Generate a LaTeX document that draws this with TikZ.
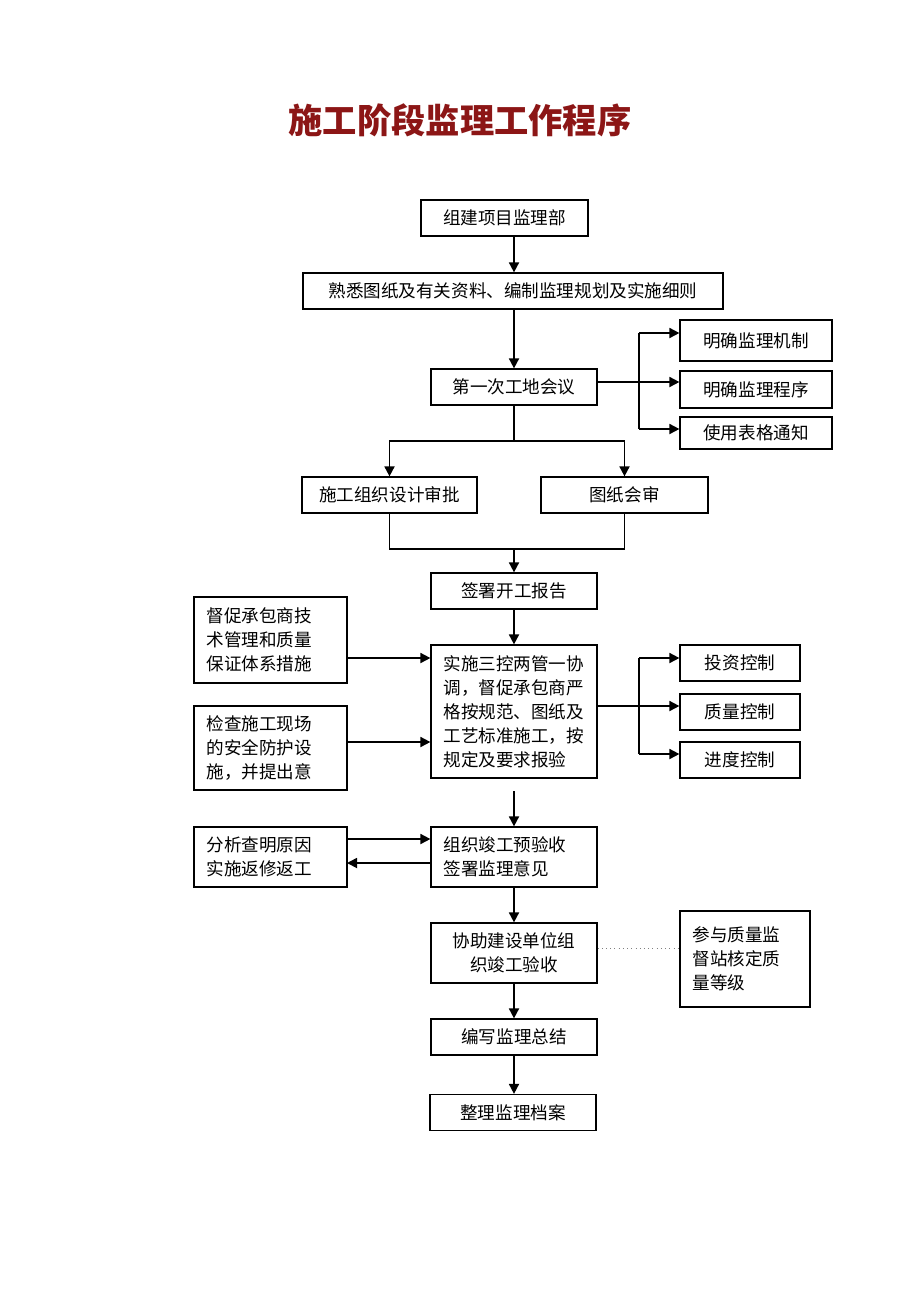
\documentclass[tikz,border=0pt]{standalone}
\usepackage{fontspec}
\setmainfont{Noto Sans CJK SC}
\usepackage{tikz}
\usetikzlibrary{arrows.meta}
\usetikzlibrary{positioning}
\definecolor{titlered}{RGB}{140,22,22}
\tikzset{box/.style = {draw, line width = 0.7pt, inner ysep = 0, font = \fontsize{10pt}{13.6pt}\selectfont}}
\tikzset{sbox/.style = {box, minimum width = 3.32cm, minimum height = 0.72cm}}
\tikzset{tbox/.style = {box, align = left, inner xsep = 0.25cm, text width = #1}}
\tikzset{arr/.style = {line width = 1pt, -{Triangle[length = 2mm, width = 2mm]}}}
\tikzset{ln/.style = {line width = 1pt}}

\begin{document}
\begin{tikzpicture}[x = 0.02cm, y = -0.02cm]
      \useasboundingbox (0, 0) rectangle (920, 1302);
      \node [font = \fontsize{19.5pt}{22pt}\selectfont\bfseries, text = titlered] (title) at (460, 120) {施工阶段监理工作程序};
      \node [sbox, minimum width = 3.34cm] (b1) at (504.5, 218) {组建项目监理部};
      \node [sbox, minimum width = 8.4cm] (b2) at (513, 291) {熟悉图纸及有关资料、编制监理规划及实施细则};
      \node [sbox] (b3) at (514, 387) {第一次工地会议};
      \node [sbox, minimum width = 3.04cm, minimum height = 0.82cm] (r1) at (756, 340.5) {明确监理机制};
      \node [sbox, minimum width = 3.04cm, minimum height = 0.74cm] (r2) at (756, 389.5) {明确监理程序};
      \node [sbox, minimum width = 3.04cm, minimum height = 0.64cm] (r3) at (756, 433) {使用表格通知};
      \node [sbox, minimum width = 3.5cm] (b4) at (389.5, 495) {施工组织设计审批};
      \node [sbox, minimum width = 3.34cm] (b5) at (624.5, 495) {图纸会审};
      \node [sbox] (b6) at (514, 591) {签署开工报告};
      \node [tbox = 2.82cm, minimum height = 2.66cm] (b7) at (514, 711.5) {实施三控两管一协\\调，督促承包商严\\格按规范、图纸及\\工艺标准施工，按\\规定及要求报验};
      \node [tbox = 2.56cm, minimum height = 1.72cm] (l1) at (270.5, 640) {督促承包商技\\术管理和质量\\保证体系措施};
      \node [tbox = 2.56cm, minimum height = 1.68cm] (l2) at (270.5, 748) {检查施工现场\\的安全防护设\\施，并提出意};
      \node [sbox, minimum width = 2.4cm] (c1) at (740, 663) {投资控制};
      \node [sbox, minimum width = 2.4cm] (c2) at (740, 712) {质量控制};
      \node [sbox, minimum width = 2.4cm] (c3) at (740, 760) {进度控制};
      \node [tbox = 2.82cm, minimum height = 1.2cm] (b8) at (514, 857) {组织竣工预验收\\签署监理意见};
      \node [tbox = 2.56cm, minimum height = 1.2cm] (l3) at (270.5, 857) {分析查明原因\\实施返修返工};
      \node [sbox, align = center, minimum height = 1.2cm] (b9) at (514, 953) {协助建设单位组\\织竣工验收};
      \node [tbox = 2.1cm, minimum width = 2.6cm, minimum height = 1.92cm] (n1) at (745, 959) {参与质量监\\督站核定质\\量等级};
      \node [sbox] (b10) at (514, 1037) {编写监理总结};
      \node [sbox] (b11) at (513, 1112.5) {整理监理档案};
      \coordinate (j1) at (639, 333);
      \coordinate (j2) at (639, 382);
      \coordinate (j3) at (639, 429);
      \coordinate (s2) at (514, 441);
      \coordinate (s3) at (514, 549);
      \coordinate (a1) at (347, 658);
      \coordinate (a2) at (347, 742);
      \coordinate (k1) at (639, 658);
      \coordinate (k2) at (639, 706);
      \coordinate (k3) at (639, 754);
      \coordinate (g1) at (514, 791);
      \coordinate (m1) at (347, 839);
      \coordinate (m2) at (347, 863);
      \coordinate (q1) at (639, 948);
      \draw [arr] (b1.south -| b3) -- (b3 |- b2.north);
      \draw [arr] (b3 |- b2.south) -- (b3);
      \draw [arr] (b3.east |- j2) -- (j2 -| r2.west);
      \draw [ln] (j1) -- (j3);
      \draw [arr] (j1) -- (j1 -| r1.west);
      \draw [arr] (j3) -- (j3 -| r3.west);
      \draw [ln] (b3) -- (s2);
      \draw [arr] (s2) -| (b4.north);
      \draw [arr] (s2) -| (b5.north);
      \draw [ln] (b4.south) |- (s3) -| (b5.south);
      \draw [arr] (s3) -- (b6);
      \draw [arr] (b6) -- (b7);
      \draw [arr] (a1) -- (a1 -| b7.west);
      \draw [arr] (a2) -- (a2 -| b7.west);
      \draw [arr] (b7.east |- k2) -- (k2 -| c2.west);
      \draw [ln] (k1) -- (k3);
      \draw [arr] (k1) -- (k1 -| c1.west);
      \draw [arr] (k3) -- (k3 -| c3.west);
      \draw [arr] (g1) -- (b8);
      \draw [arr] (m1) -- (m1 -| b8.west);
      \draw [arr] (m2 -| b8.west) -- (m2);
      \draw [arr] (b8) -- (b9);
      \draw [dotted, gray] (b9.east |- q1) -- (q1 -| n1.west);
      \draw [arr] (b9) -- (b10);
      \draw [arr] (b10) -- (b10 |- b11.north);
\end{tikzpicture}
\end{document}
